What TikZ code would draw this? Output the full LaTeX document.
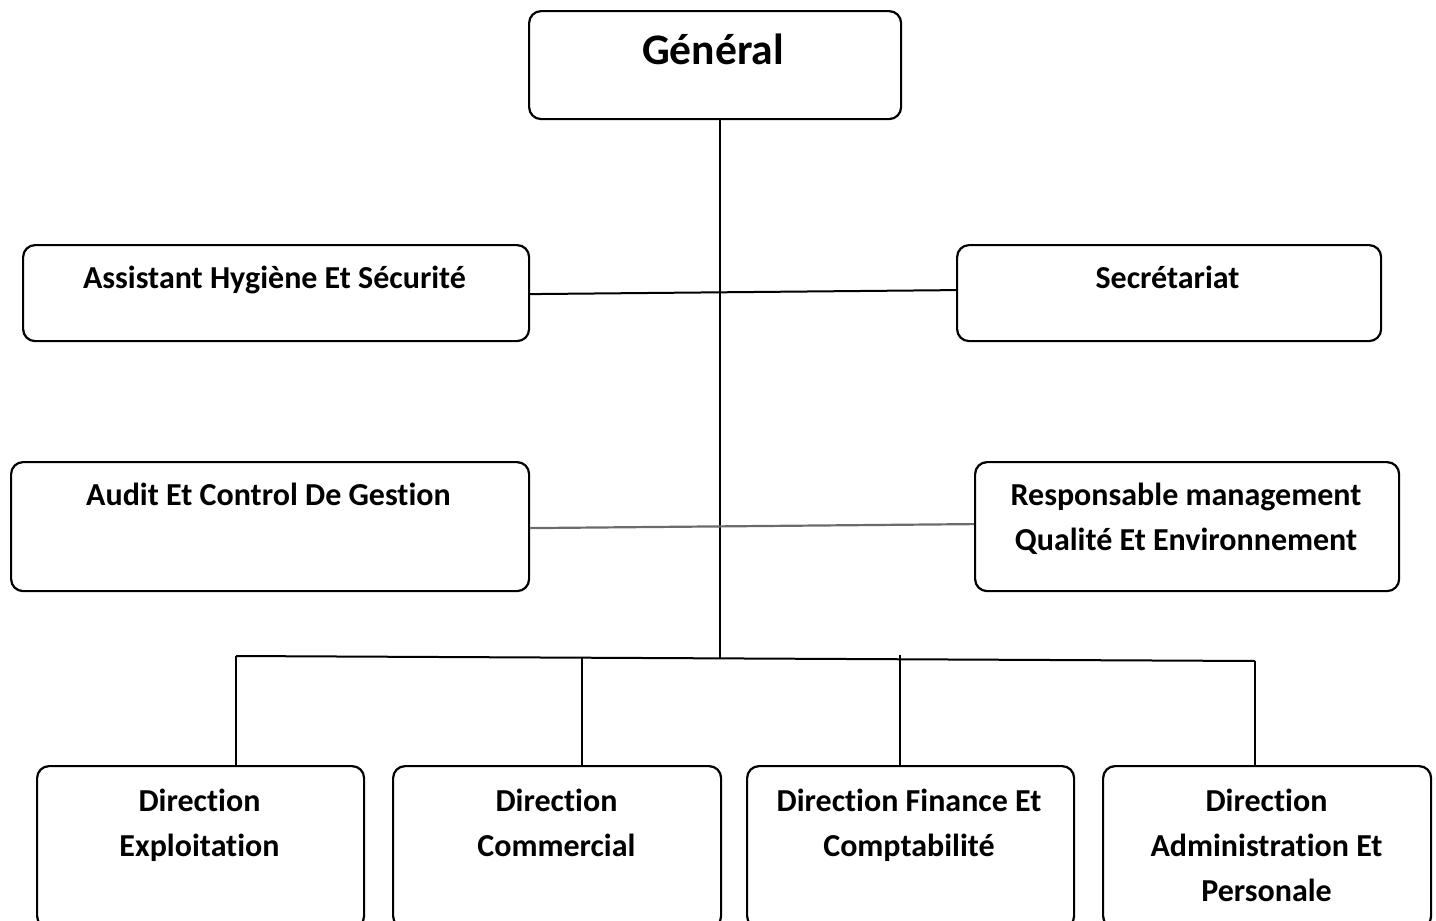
\documentclass[tikz,border=0pt]{standalone}
\usepackage{fontspec}
\setmainfont[Ligatures={NoCommon}]{Carlito}
\begin{document}
\begin{tikzpicture}[x=0.5pt,y=-0.5pt,
  box/.style={draw,line width=1.1pt,rounded corners=6pt,inner sep=0pt,anchor=north west},
  lbl/.style={font=\bfseries\fontsize{16}{22.5}\selectfont,align=center,inner sep=0pt,anchor=base},
  biglbl/.style={font=\bfseries\fontsize{21.8}{26}\selectfont,inner sep=0pt,anchor=base},
  conn/.style={line width=1pt},
  gconn/.style={line width=1.1pt,draw=black!58}]
\useasboundingbox (0,0) rectangle (1436,921);
\clip (0,0) rectangle (1436,921);
% boxes
\node[box,minimum width=186pt,minimum height=54pt] (gen) at (528,10) {};
\node[box,minimum width=253pt,minimum height=48pt] (asst) at (22,244) {};
\node[box,minimum width=212pt,minimum height=48pt] (sec) at (956,244) {};
\node[box,minimum width=259pt,minimum height=64.5pt] (audit) at (10,461) {};
\node[box,minimum width=212pt,minimum height=64.5pt] (resp) at (974,461) {};
\node[box,minimum width=163.5pt,minimum height=81pt] (d1) at (36,765) {};
\node[box,minimum width=164pt,minimum height=81pt] (d2) at (392,765) {};
\node[box,minimum width=163.5pt,minimum height=81pt] (d3) at (746,765) {};
\node[box,minimum width=164pt,minimum height=81pt] (d4) at (1102,765) {};
% labels (base anchor = baseline of last line)
\node[biglbl] (genT) at (713,64) {Général};
\node[lbl] (asstT) at (274.5,288) {Assistant Hygiène Et Sécurité};
\node[lbl] (secT) at (1167.5,288) {Secrétariat};
\node[lbl] (auditT) at (268.5,505) {Audit Et Control De Gestion};
\node[lbl] (respT) at (1186,550) {Responsable management\\Qualité Et Environnement};
\node[lbl] (d1T) at (199.5,856) {Direction\\Exploitation};
\node[lbl] (d2T) at (556.5,856) {Direction\\Commercial};
\node[lbl] (d3T) at (909,856) {Direction Finance Et\\Comptabilité};
\node[lbl] (d4T) at (1266.5,901) {Direction\\Administration Et\\Personale};
% connectors
\coordinate (j) at (720,658);
\coordinate (b1) at (236,656);
\coordinate (b2) at (582,658);
\coordinate (b3) at (900,655);
\coordinate (b4) at (1255,661);
\draw[conn] (gen.south -| j) -- (j);
\draw[conn] ([yshift=-0.5pt]asst.east) -- ([yshift=1.5pt]sec.west);
\draw[gconn] ([yshift=-0.75pt]audit.east) -- ([yshift=1.25pt]resp.west);
\draw[conn] (b1) -- (b4);
\draw[conn] (b1) -- (b1 |- d1.north);
\draw[conn] (b2) -- (b2 |- d2.north);
\draw[conn] (b3) -- (b3 |- d3.north);
\draw[conn] (b4) -- (b4 |- d4.north);
\end{tikzpicture}
\end{document}
